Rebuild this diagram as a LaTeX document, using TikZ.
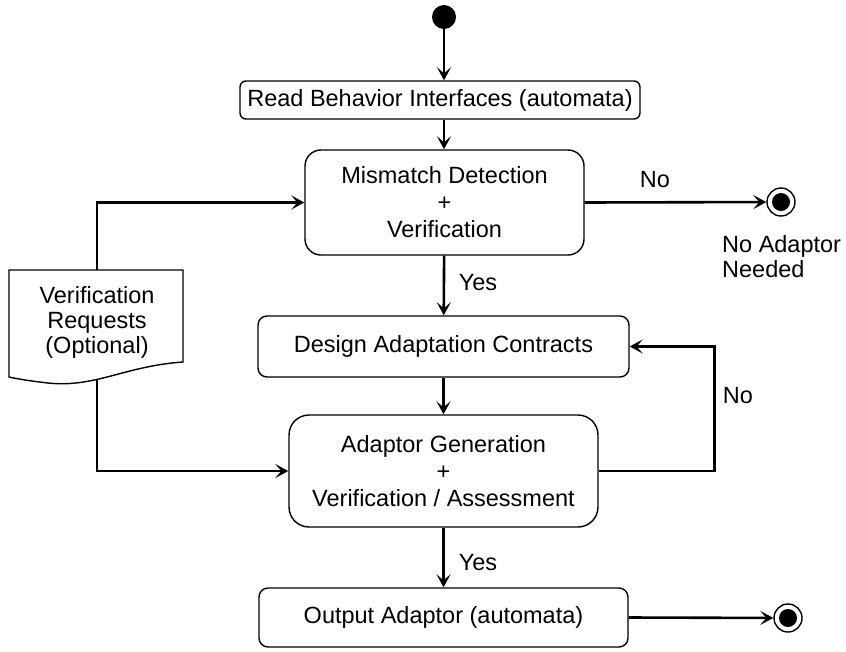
\documentclass[tikz,border=0pt]{standalone}
\usepackage{fontspec}
\setmainfont{Liberation Sans}
\usetikzlibrary{arrows.meta}
\begin{document}
\begin{tikzpicture}[x=1pt,y=-1pt,
  txt/.style={font=\fontsize{23.5}{27}\selectfont, align=center, inner sep=0pt},
  activity/.style={txt, draw, line width=1.4pt, fill=white, rectangle},
  arr/.style={line width=2.6pt, -{Stealth[length=13pt,width=14pt,inset=6pt]}},
  lbl/.style={font=\fontsize{23.5}{25}\selectfont, inner sep=0pt}]
\useasboundingbox (0,0) rectangle (846,651);

% activities
\node[activity, rounded corners=6pt, minimum width=400pt, minimum height=38pt] (read) at (440,100) {Read Behavior Interfaces (automata)};
\node[activity, rounded corners=16pt, minimum width=279pt, minimum height=105pt] (mismatch) at (444.5,202.5) {Mismatch Detection\\+\\Verification};
\node[activity, rounded corners=9pt, minimum width=371pt, minimum height=61pt] (design) at (443.5,346.5) {Design Adaptation Contracts};
\node[activity, rounded corners=20pt, minimum width=309pt, minimum height=112pt] (gen) at (443.5,471) {Adaptor Generation\\+\\Verification / Assessment};
\node[activity, rounded corners=9pt, minimum width=369pt, minimum height=59pt] (out) at (443.5,617.5) {Output Adaptor (automata)};

% initial and final states
\node[circle, fill=black, minimum size=24pt, inner sep=0pt] (init) at (444,17) {};
\node[circle, draw, line width=1.4pt, minimum size=28pt, inner sep=0pt] (final1) at (781,202) {};
\fill (final1) circle (9pt);
\node[circle, draw, line width=1.4pt, minimum size=28pt, inner sep=0pt] (final2) at (788,618) {};
\fill (final2) circle (9pt);

% main flow
\draw[arr] (init) -- (init |- read.north);
\draw[arr] (init |- read.south) -- (init |- mismatch.north);
\draw[arr] (mismatch) -- (design);
\draw[arr] (design) -- (gen);
\draw[arr] (gen) -- (out);
\draw[arr] (mismatch.east) -- (final1);
\draw[arr] (out.east) -- (final2);
\draw[arr] (gen.east) -- ++(116,0) |- (design.east);

% optional verification requests
\coordinate (docTop) at (97,270);
\coordinate (docBot) at (97,380);
\draw[arr] (docTop) |- (mismatch.west);
\draw[arr] (docBot) |- (gen.west);
\draw[line width=1.4pt, fill=white] (9,270) -- (183,270) -- (183,362)
  .. controls (125,366) and (95,388) .. (48,383)
  .. controls (30,381) and (18,379) .. (9,377) -- cycle;
\node[lbl, align=center] (doc) at (97,322) {Verification\\Requests\\(Optional)};

% guard labels
\node[lbl] (no1) at (655,180) {No};
\node[lbl] (yes1) at (478,283) {Yes};
\node[lbl] (no2) at (738,396) {No};
\node[lbl] (yes2) at (478,563) {Yes};
\node[lbl, align=left, anchor=west] (noneed) at (722,257) {No Adaptor\\Needed};
\end{tikzpicture}
\end{document}
